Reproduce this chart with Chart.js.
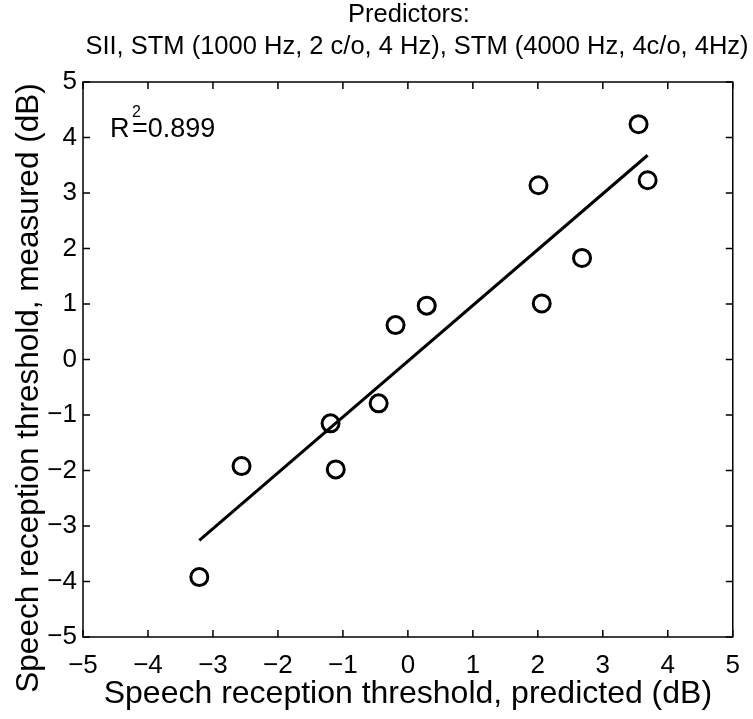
<!DOCTYPE html>
<html>
<head>
<meta charset="utf-8">
<script src="https://cdn.jsdelivr.net/npm/chart.js@4.4.1/dist/chart.umd.min.js"></script>
<style>
  html, body { margin: 0; padding: 0; background: #ffffff; }
  #wrap { width: 753px; height: 719px; position: relative; }
</style>
</head>
<body>
<div id="wrap"><canvas id="c" width="753" height="719"></canvas></div>
<script>
// ---- data ----
const titleLines = ["Predictors:", "SII, STM (1000 Hz, 2 c/o, 4 Hz), STM (4000 Hz, 4c/o, 4Hz)"];
const predicted = [-3.21, -2.56, -1.19, -1.11, -0.45, -0.19, 0.29, 2.01, 2.06, 2.68, 3.55, 3.69];
const measured  = [-3.92, -1.92, -1.15, -1.98, -0.79, 0.62, 0.97, 3.14, 1.01, 1.83, 4.24, 3.23];
const fitX = [-3.21, 3.69];
const fitY = [-3.26, 3.68];
const rSquaredLabel = "=0.899";
const xTicks = [-5, -4, -3, -2, -1, 0, 1, 2, 3, 4, 5];
const yTicks = [-5, -4, -3, -2, -1, 0, 1, 2, 3, 4, 5];
const xTitle = "Speech reception threshold, predicted (dB)";
const yTitle = "Speech reception threshold, measured (dB)";

const FONT = "'Liberation Sans', Arial, sans-serif";
const pts = predicted.map((x, i) => ({x: x, y: measured[i]}));
const fit = fitX.map((x, i) => ({x: x, y: fitY[i]}));
const fmt = v => (v < 0 ? "\u2212" + Math.abs(v) : String(v));

const boxPlugin = {
  id: 'boxPlugin',
  afterDatasetsDraw(chart) {
    const ctx = chart.ctx, a = chart.chartArea;
    const xs = chart.scales.x, ys = chart.scales.y;
    ctx.save();
    ctx.strokeStyle = '#000';
    ctx.lineWidth = 1.5;
    ctx.strokeRect(a.left, a.top, a.right - a.left, a.bottom - a.top);
    const L = 7;
    ctx.beginPath();
    xTicks.forEach(v => {
      const px = xs.getPixelForValue(v);
      ctx.moveTo(px, a.bottom); ctx.lineTo(px, a.bottom - L);
      ctx.moveTo(px, a.top); ctx.lineTo(px, a.top + L);
    });
    yTicks.forEach(v => {
      const py = ys.getPixelForValue(v);
      ctx.moveTo(a.left, py); ctx.lineTo(a.left + L, py);
      ctx.moveTo(a.right, py); ctx.lineTo(a.right - L, py);
    });
    ctx.stroke();
    // title
    ctx.fillStyle = '#000';
    ctx.textAlign = 'center';
    ctx.textBaseline = 'middle';
    ctx.font = "25.5px " + FONT;
    ctx.fillText(titleLines[0], 409, 15);
    ctx.fillText(titleLines[1], 417, 47);
    // y-axis title
    ctx.save();
    ctx.translate(29, 388);
    ctx.rotate(-Math.PI / 2);
    ctx.font = "31.5px " + FONT;
    ctx.fillText(yTitle, 0, 0);
    ctx.restore();
    // R^2 annotation
    ctx.textAlign = 'left';
    ctx.textBaseline = 'alphabetic';
    ctx.font = "27px " + FONT;
    ctx.fillText("R", 110, 137);
    ctx.font = "16px " + FONT;
    ctx.fillText("2", 132, 117);
    ctx.font = "27px " + FONT;
    ctx.fillText(rSquaredLabel, 132, 137);
    ctx.restore();
  }
};

new Chart(document.getElementById('c'), {
  type: 'scatter',
  data: {
    datasets: [
      {
        type: 'line',
        data: fit,
        borderColor: '#000',
        borderWidth: 3,
        pointRadius: 0,
        fill: false,
        tension: 0,
        order: 2
      },
      {
        data: pts,
        pointStyle: 'circle',
        pointRadius: 8.5,
        pointBorderWidth: 3,
        pointBackgroundColor: 'rgba(0,0,0,0)',
        pointBorderColor: '#000',
        order: 1
      }
    ]
  },
  options: {
    responsive: false,
    animation: false,
    layout: { padding: { top: 82, right: 19, left: 0, bottom: 0 } },
    plugins: { legend: { display: false }, tooltip: { enabled: false }, title: { display: false } },
    scales: {
      x: {
        type: 'linear', min: -5, max: 5,
        afterBuildTicks: s => { s.ticks = xTicks.map(v => ({value: v})); },
        afterFit: s => { s.height = 82; },
        grid: { display: false, drawTicks: false },
        border: { display: false },
        ticks: { color: '#000', font: { size: 26, family: FONT }, padding: 13, maxRotation: 0, callback: v => fmt(v) },
        title: { display: true, text: xTitle, color: '#000', font: { size: 32, family: FONT }, padding: { top: 0, bottom: 6 } }
      },
      y: {
        type: 'linear', min: -5, max: 5,
        afterBuildTicks: s => { s.ticks = yTicks.map(v => ({value: v})); },
        afterFit: s => { s.width = 83; },
        grid: { display: false, drawTicks: false },
        border: { display: false },
        ticks: { color: '#000', font: { size: 26, family: FONT }, padding: 6, callback: v => fmt(v) },
        title: { display: false, text: yTitle }
      }
    }
  },
  plugins: [boxPlugin]
});
</script>
</body>
</html>
